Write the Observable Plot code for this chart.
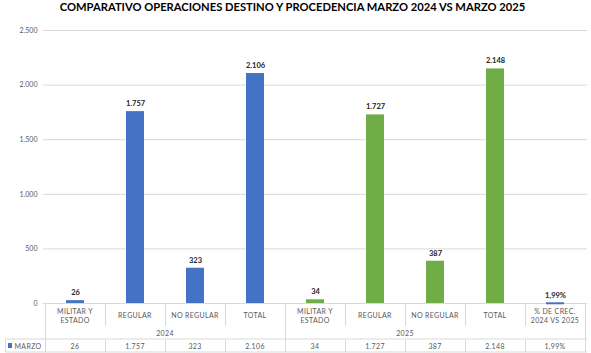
<!DOCTYPE html>
<html>
<head>
<meta charset="utf-8">
<script src="https://cdn.jsdelivr.net/npm/d3@7"></script>
<script src="https://cdn.jsdelivr.net/npm/@observablehq/plot@0.6"></script>
<style>
  html, body { margin: 0; padding: 0; background: #fff; }
  #wrap { width: 591px; height: 353px; overflow: hidden; }
  #title { height: 26px; line-height: 24px; text-align: center; font: bold 11.2px Lato, "Open Sans", sans-serif; color: #000; padding-right: 6px; box-sizing: border-box; }
</style>
</head>
<body>
<div id="wrap">
  <div id="title">COMPARATIVO OPERACIONES DESTINO Y PROCEDENCIA MARZO 2024 VS MARZO 2025</div>
  <div id="chart"></div>
</div>
<script>
const categories = ["MILITAR Y\nESTADO", "REGULAR", "NO REGULAR", "TOTAL"];
const years = ["2024", "2025"];
const values2024 = [26, 1757, 323, 2106];
const values2025 = [34, 1727, 387, 2148];
const growthLabel = "% DE CREC.\n2024 VS 2025";
const growthValue = 1.99;
const growthText = "1,99%";
const seriesName = "MARZO";
const yTicks = [0, 500, 1000, 1500, 2000, 2500];
const colors = {"2024": "#4472C4", "2025": "#70AD47", growth: "#4472C4"};

const locale = d3.formatLocale({decimal: ",", thousands: ".", grouping: [3], currency: ["", ""]});
const fmt = locale.format(",d");

const rows = [];
years.forEach((yr, yi) => {
  const vals = yi === 0 ? values2024 : values2025;
  categories.forEach((c, i) => rows.push({key: yr + "|" + c, year: yr, cat: c, value: vals[i], label: fmt(vals[i]), color: colors[yr]}));
});
const growthRow = {key: "growth", year: "", cat: growthLabel, value: growthValue, label: growthText, color: colors.growth};
const allRows = [...rows, growthRow];
const keys = allRows.map(d => d.key);

const FONT = "Lato, 'Open Sans', sans-serif";
const TXT = "#595959";
const LINE = "#d9d9d9";

function tableMark(index, scales, values, dimensions) {
  const x = scales.x;
  const bw = x.bandwidth ? x.bandwidth() : (x(keys[1]) - x(keys[0]));
  const y0 = dimensions.height - dimensions.marginBottom;
  const right = dimensions.width - dimensions.marginRight;
  const g = d3.create("svg:g").attr("font-family", FONT).attr("fill", TXT).attr("font-size", 7).attr("letter-spacing", 0.35);
  const line = (x1, y1, x2, y2) => g.append("line").attr("x1", x1).attr("y1", y1).attr("x2", x2).attr("y2", y2).attr("stroke", LINE).attr("stroke-width", 1);
  const legendLeft = 5.5;
  const rowTop = y0 + 36, rowBot = y0 + 49;
  line(legendLeft, rowTop, right, rowTop);
  line(legendLeft, rowBot, right, rowBot);
  const bounds = keys.map(k => x(k)).concat([x(keys[keys.length - 1]) + bw]);
  bounds.forEach((bx, i) => {
    const k = keys[i];
    const prev = keys[i - 1];
    const isGroup = i === 0 || i === bounds.length - 1 || (k && prev && k.split("|")[0] !== prev.split("|")[0] && k !== "growth");
    const xx = Math.round(bx) + 0.5;
    if (isGroup) line(xx, y0, xx, rowBot);
    else { line(xx, y0, xx, y0 + 23); line(xx, rowTop, xx, rowBot); }
  });
  line(legendLeft, rowTop, legendLeft, rowBot);
  allRows.forEach(d => {
    const cx = x(d.key) + bw / 2;
    const lines = d.cat.split("\n");
    lines.forEach((t, j) => {
      g.append("text").attr("x", cx).attr("y", y0 + 12 + (j - (lines.length - 1) / 2) * 9)
        .attr("text-anchor", "middle").attr("dominant-baseline", "central").text(t);
    });
    g.append("text").attr("x", cx).attr("y", y0 + 42.5).attr("text-anchor", "middle").attr("dominant-baseline", "central").text(d.label);
  });
  years.forEach(yr => {
    const ks = rows.filter(d => d.year === yr).map(d => d.key);
    const cx = (x(ks[0]) + x(ks[ks.length - 1]) + bw) / 2;
    g.append("text").attr("x", cx).attr("y", y0 + 29.5).attr("text-anchor", "middle").attr("dominant-baseline", "central").text(yr);
  });
  g.append("rect").attr("x", 8).attr("y", y0 + 40).attr("width", 4).attr("height", 5).attr("fill", colors["2024"]);
  g.append("text").attr("x", 14.5).attr("y", y0 + 42.5).attr("text-anchor", "start").attr("dominant-baseline", "central").text(seriesName);
  return g.node();
}

const chart = Plot.plot({
  width: 591,
  height: 327,
  marginTop: 4,
  marginBottom: 50,
  marginLeft: 43,
  marginRight: 4,
  style: {fontFamily: FONT, background: "#fff"},
  x: {type: "band", domain: keys, padding: 0, axis: null},
  y: {domain: [0, 2500], ticks: yTicks, axis: null},
  color: {type: "identity"},
  marks: [
    Plot.gridY(yTicks, {stroke: LINE, strokeOpacity: 1}),
    Plot.axisY(yTicks, {tickSize: 0, tickPadding: 6, tickFormat: fmt, fontSize: 7, fill: TXT, letterSpacing: 0.3, label: null}),
    Plot.barY(rows, {x: "key", y: "value", fill: "color", insetLeft: 21, insetRight: 21}),
    Plot.tickY([growthRow], {x: "key", y: "value", stroke: "color", strokeWidth: 2, insetLeft: 21, insetRight: 21}),
    Plot.text(allRows, {x: "key", y: "value", text: "label", dy: -8, fontWeight: "bold", fontSize: 7.5, fill: "#262626"}),
    tableMark
  ]
});
document.getElementById("chart").appendChild(chart);
</script>
</body>
</html>
